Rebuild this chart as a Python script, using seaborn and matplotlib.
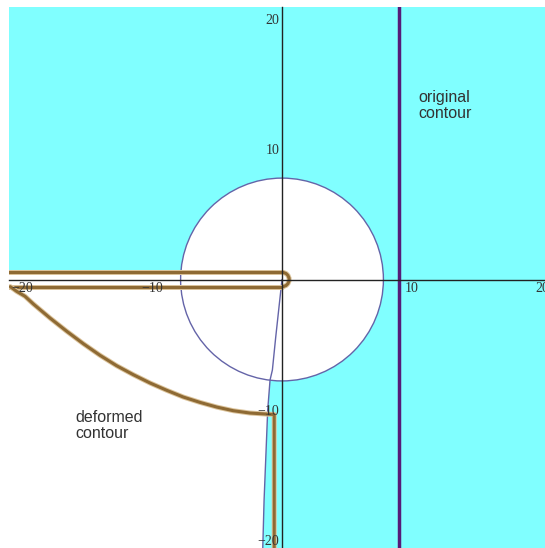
import numpy as np
import pandas as pd
import matplotlib
matplotlib.use("Agg")
import matplotlib.pyplot as plt
import matplotlib.patches as mpatches
import matplotlib.patheffects as pe
import seaborn as sns

sns.set_style("white")
plt.rcParams['font.family'] = ['Liberation Sans', 'DejaVu Sans']

# circle of convergence (white disk)
circle_radius = 7.8

# boundary between white / cyan region below the real axis
boundary_x = [0.0, -0.2, -0.48, -0.74, -0.92, -1.1, -1.38, -1.48]
boundary_y = [0.0, -1.83, -4.4, -6.96, -7.73, -10.04, -17.0, -20.65]

# original contour: vertical line Re(z) = 9
original_x = 9.0

# deformed contour (keyhole + arc + vertical line)
keyhole_halfwidth = 0.55
arc_x = [-20.9, -20.41, -19.77, -19.13, -17.85, -16.56, -15.28, -14.0, -12.72,
         -11.44, -10.15, -8.87, -7.59, -6.31, -5.02, -3.75, -2.46, -1.18,
         -0.6, -0.6]
arc_y = [-0.55, -0.91, -1.29, -1.88, -2.96, -3.98, -4.94, -5.83, -6.63,
         -7.32, -7.96, -8.52, -9.04, -9.45, -9.81, -10.09, -10.27, -10.35,
         -10.38, -21.5]

major_ticks = [-20, -10, 10, 20]
minor_ticks = [v for v in range(-20, 21, 2) if v not in (-20, -10, 0, 10, 20)]
tick_labels = ["\u221220", "\u221210", "10", "20"]

cyan = "#80ffff"
slate = "#6464a8"
brown = "#8e6a34"
halo = "#dcc49c"
purple = "#561c78"

fig = plt.figure(figsize=(5.45, 5.48), dpi=100)
ax = fig.add_axes([9 / 545, 0, 536 / 545, 541 / 548])
ax.set_facecolor(cyan)
ax.set_xlim(-21.0, 20.23)
ax.set_ylim(-20.65, 20.96)

# white region: disk plus lower-left area left of the boundary curve
white_poly = [(-25, keyhole_halfwidth * 0.9), (0, keyhole_halfwidth * 0.9)]
white_poly += list(zip(boundary_x, boundary_y))
white_poly += [(boundary_x[-1], -25), (-25, -25)]
ax.add_patch(mpatches.Polygon(white_poly, closed=True, facecolor="white",
                              edgecolor="none", zorder=1))
ax.add_patch(mpatches.Circle((0, 0), circle_radius, facecolor="white",
                             edgecolor=slate, lw=1.0, zorder=2))

bd = pd.DataFrame({"x": boundary_x, "y": boundary_y})
sns.lineplot(data=bd, x="x", y="y", sort=False, estimator=None, color=slate,
             lw=1.0, ax=ax, zorder=3)

# original contour
orig = pd.DataFrame({"x": [original_x, original_x], "y": [-25, 25]})
sns.lineplot(data=orig, x="x", y="y", sort=False, estimator=None, color=purple,
             lw=2.5, ax=ax, zorder=4)

# deformed contour
effects = [pe.Stroke(linewidth=3.6, foreground=halo), pe.Normal()]
upper = pd.DataFrame({"x": [-25, 0], "y": [keyhole_halfwidth, keyhole_halfwidth]})
lower = pd.DataFrame({"x": [0, -25], "y": [-keyhole_halfwidth, -keyhole_halfwidth]})
arc = pd.DataFrame({"x": arc_x, "y": arc_y})
for df in (upper, lower, arc):
    sns.lineplot(data=df, x="x", y="y", sort=False, estimator=None, color=brown,
                 lw=2.2, ax=ax, zorder=5, path_effects=effects)
ax.add_patch(mpatches.Arc((0, 0), 2 * keyhole_halfwidth, 2 * keyhole_halfwidth,
                          theta1=-90, theta2=90, color=brown, lw=2.2, zorder=5,
                          path_effects=effects))

# axes through the origin
for side in ("top", "right"):
    ax.spines[side].set_visible(False)
ax.spines["left"].set_position("zero")
ax.spines["bottom"].set_position("zero")
for side in ("left", "bottom"):
    ax.spines[side].set_color("#222222")
    ax.spines[side].set_linewidth(1.0)
    ax.spines[side].set_zorder(6)
ax.xaxis.set_zorder(6)
ax.yaxis.set_zorder(6)
ax.set_xticks(major_ticks)
ax.set_xticklabels(tick_labels)
ax.set_yticks(major_ticks)
ax.set_yticklabels(tick_labels)
ax.set_xticks(minor_ticks, minor=True)
ax.set_yticks(minor_ticks, minor=True)
ax.tick_params(which="both", direction="in", color="#222222", width=0.8,
               labelsize=10, pad=2)
ax.tick_params(which="major", length=4)
ax.tick_params(which="minor", length=2.2)
for lab in ax.get_xticklabels() + ax.get_yticklabels():
    lab.set_family(["Liberation Serif", "DejaVu Serif"])
    lab.set_color("#333333")
ax.set_xlabel("")
ax.set_ylabel("")

ax.text(10.46, 14.6, "original\ncontour", fontsize=11.5, color="#333333",
        va="top", ha="left", zorder=7, linespacing=1.15)
ax.text(-15.9, -10.0, "deformed\ncontour", fontsize=11.5, color="#333333",
        va="top", ha="left", zorder=7, linespacing=1.15)

fig.savefig("out.png", dpi=100, facecolor="white")
